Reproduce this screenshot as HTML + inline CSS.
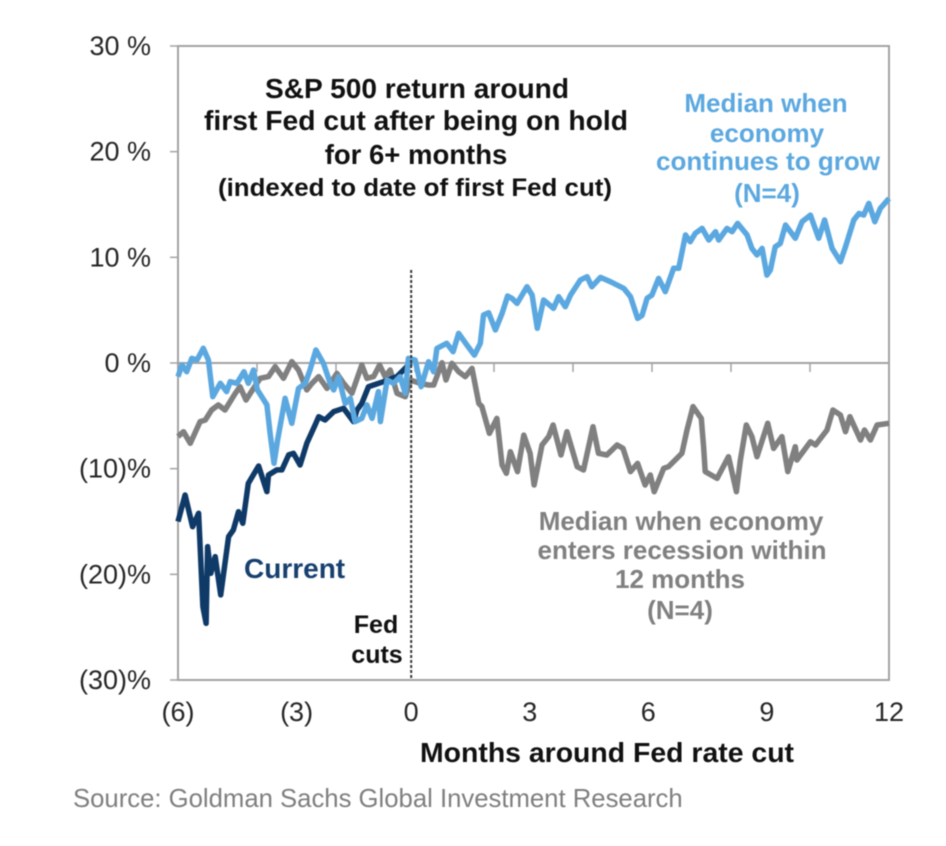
<!DOCTYPE html>
<html lang="en">
<head>
<meta charset="utf-8">
<title>S&amp;P 500 return around first Fed cut</title>
<style>
html,body{margin:0;padding:0;background:#fff;width:946px;height:846px;overflow:hidden}
svg{display:block;filter:blur(0.6px)}
text{font-family:"Liberation Sans",Arial,sans-serif}
.b{font-weight:bold}
.t{font-size:27px;fill:#262626}
</style>
</head>
<body>
<svg id="chart" width="946" height="846" viewBox="0 0 946 846" xmlns="http://www.w3.org/2000/svg">
<rect x="0" y="0" width="946" height="846" fill="#fff"/>
<g id="grid"></g>
<g id="series"></g>
<g id="labels"></g>
<g class="b" text-anchor="middle" fill="#111">
<text x="417" y="98" font-size="27.5" textLength="304" lengthAdjust="spacingAndGlyphs">S&amp;P 500 return around</text>
<text x="416" y="130" font-size="27.5" textLength="424" lengthAdjust="spacingAndGlyphs">first Fed cut after being on hold</text>
<text x="416" y="164" font-size="27.5">for 6+ months</text>
<text x="415" y="196" font-size="25" textLength="394" lengthAdjust="spacingAndGlyphs">(indexed to date of first Fed cut)</text>
</g>
<g class="b" text-anchor="middle" fill="#5ba8e0" font-size="26">
<text x="766" y="112">Median when</text>
<text x="767" y="142">economy</text>
<text x="768" y="170">continues to grow</text>
<text x="767" y="202">(N=4)</text>
</g>
<g class="b" text-anchor="middle" fill="#808080" font-size="26">
<text x="681" y="530">Median when economy</text>
<text x="682" y="559">enters recession within</text>
<text x="680" y="588">12 months</text>
<text x="680" y="619">(N=4)</text>
</g>
<text class="b" x="244" y="578" font-size="28" fill="#17406f">Current</text>
<g class="b" text-anchor="middle" fill="#111" font-size="25">
<text x="376" y="633">Fed</text>
<text x="377" y="663">cuts</text>
</g>
<text class="b" x="607" y="762" font-size="27.5" text-anchor="middle" textLength="374" lengthAdjust="spacingAndGlyphs" fill="#111">Months around Fed rate cut</text>
<text x="73" y="807" font-size="25.7" fill="#7f7f7f">Source: Goldman Sachs Global Investment Research</text>
</svg>
<script>
const yTicks = [30, 20, 10, 0, -10, -20, -30];
const yTickLabels = ["30 %", "20 %", "10 %", "0 %", "(10)%", "(20)%", "(30)%"];
const xTicks = [-5.9, -2.9, 0, 3, 6, 9, 12.09];
const xTickLabels = ["(6)", "(3)", "0", "3", "6", "9", "12"];
const zeroLineTickCount = 9;

const grayMonths = [-5.9,-5.76,-5.59,-5.34,-5.21,-5.05,-4.88,-4.71,-4.45,-4.33,-4.18,-3.99,-3.82,-3.61,-3.44,-3.23,-3.02,-2.85,-2.64,-2.51,-2.34,-2.13,-1.88,-1.71,-1.5,-1.25,-1.12,-0.95,-0.8,-0.66,-0.53,-0.36,-0.15,-0.02,0.23,0.44,0.57,0.78,0.88,1.03,1.2,1.37,1.54,1.71,1.79,1.98,2.17,2.3,2.41,2.51,2.69,2.85,3.01,3.11,3.22,3.31,3.48,3.59,3.79,3.94,4.2,4.36,4.6,4.74,4.95,5.21,5.36,5.55,5.73,5.92,6.05,6.15,6.39,6.51,6.85,6.98,7.13,7.34,7.4,7.44,7.74,8.03,8.23,8.33,8.48,8.62,8.75,8.83,9.02,9.17,9.38,9.53,9.72,9.76,10.1,10.23,10.52,10.67,10.86,10.99,11.1,11.37,11.47,11.62,11.79,12.09];
const grayValues = [-6.97,-6.5,-7.6,-5.55,-5.39,-4.45,-3.97,-4.45,-2.87,-2.24,-3.5,-2.4,-1.45,-1.29,-0.35,-1.45,0.13,-0.66,-2.55,-1.92,-1.29,-2.4,-0.98,-1.92,-2.87,-0.19,-1.45,-1.29,-0.19,-1.29,-0.66,-2.87,-3.19,-1.61,-1.93,-2.08,-2.08,0.03,-1.61,-0.03,-0.82,-1.3,-0.51,-3.82,-4.13,-6.66,-5.24,-9.65,-10.44,-8.39,-10.28,-6.82,-8.55,-11.55,-9.5,-7.76,-6.97,-5.87,-8.71,-6.5,-9.81,-10.13,-6.03,-8.55,-8.71,-7.76,-8.08,-10.28,-9.5,-11.55,-10.6,-12.18,-9.97,-9.81,-8.55,-6.34,-4.13,-5.24,-7.92,-10.28,-10.92,-8.87,-12.18,-9.18,-5.87,-6.97,-8.87,-7.92,-5.71,-8.08,-6.97,-10.28,-7.92,-9.18,-7.45,-7.76,-6.34,-4.45,-4.92,-6.5,-5.08,-7.29,-6.34,-7.29,-5.87,-5.71];

const currentMonths = [-5.9,-5.72,-5.53,-5.38,-5.27,-5.19,-5.15,-5.07,-4.96,-4.82,-4.62,-4.5,-4.37,-4.26,-4.12,-3.86,-3.65,-3.61,-3.4,-3.27,-3.1,-2.98,-2.81,-2.64,-2.43,-2.34,-2.18,-1.96,-1.71,-1.46,-1.37,-1.25,-1.08,-0.95,-0.7,-0.36,-0.07,0];
const currentValues = [-15.01,-12.49,-15.49,-14.22,-23.06,-24.63,-17.38,-19.9,-18.32,-21.95,-16.43,-15.8,-14.07,-15.17,-11.39,-9.75,-12.17,-10.6,-10.12,-10.12,-8.7,-8.55,-9.65,-7.6,-5.87,-5.08,-5.39,-4.6,-4.29,-5.55,-4.45,-3.82,-2.24,-2.08,-1.77,-1.29,-0.19,0];

const growthMonths = [-5.9,-5.8,-5.68,-5.55,-5.42,-5.26,-5.13,-5.02,-4.83,-4.67,-4.58,-4.41,-4.23,-4.12,-3.99,-3.89,-3.65,-3.57,-3.47,-3.38,-3.19,-3.02,-2.85,-2.68,-2.56,-2.41,-2.22,-2.05,-1.96,-1.84,-1.67,-1.54,-1.42,-1.25,-1.12,-0.99,-0.83,-0.78,-0.61,-0.45,-0.28,-0.15,-0.07,0.1,0.25,0.44,0.57,0.65,0.9,1.06,1.2,1.41,1.6,1.75,1.83,1.96,2.13,2.3,2.44,2.55,2.68,2.93,3.06,3.19,3.35,3.6,3.73,3.9,4.03,4.28,4.45,4.57,4.79,5.04,5.38,5.55,5.73,5.84,5.97,6.09,6.26,6.43,6.64,6.77,6.94,7.06,7.19,7.36,7.53,7.7,7.78,7.99,8.12,8.26,8.5,8.62,8.75,8.88,9,9.09,9.21,9.34,9.47,9.72,9.89,10.1,10.31,10.46,10.65,10.86,10.99,11.2,11.33,11.45,11.58,11.73,11.87,12.09];
const growthValues = [-1.29,-0.19,-0.82,0.44,0.28,1.39,0.28,-3.19,-1.92,-2.71,-1.77,-1.92,-0.82,-1.92,-0.66,-2.55,-3.97,-6.65,-9.49,-7.29,-3.34,-5.71,-2.4,-1.92,-0.66,1.23,-0.03,-1.92,-2.55,-1.29,-3.82,-3.34,-5.55,-5.24,-3.97,-5.24,-2.71,-5.55,-1.61,-1.92,-1.29,-2.87,0.44,0.28,-2.24,0.12,-0.82,1.38,1.86,1.07,2.8,1.7,0.75,1.86,4.54,4.76,3.12,4.7,6.34,6.11,5.64,7.22,6.43,3.28,5.96,5.17,6.27,5.33,6.43,7.85,8.17,7.22,8.1,7.69,7.06,6.27,4.22,4.5,6.12,6.43,8.01,6.75,8.96,8.96,12.11,11.48,12.27,12.74,11.64,12.43,11.64,12.74,12.43,13.21,12.11,10.85,10.22,10.85,8.32,8.8,11,11.32,13.06,11.8,13.37,14,11.8,13.53,10.85,9.59,11,13.53,14.16,14,15.1,13.37,14.63,15.58];

const svgNS = "http://www.w3.org/2000/svg";
const left = 178, right = 889, top_ = 46, bottom = 680;
const xMin = -5.9, xMax = 12.09;
function xScale(m) { return left + (m - xMin) / (xMax - xMin) * (right - left); }
function yScale(v) { return bottom - (v + 30) / 60 * (bottom - top_); }
function make(tag, attrs, parent) {
  const el = document.createElementNS(svgNS, tag);
  for (const k in attrs) el.setAttribute(k, attrs[k]);
  parent.appendChild(el);
  return el;
}
const grid = document.getElementById("grid");
const seriesG = document.getElementById("series");
const labelsG = document.getElementById("labels");
const axisColor = "#a3a3a3";

const frame = make("rect", {x: left, y: top_, width: right - left, height: bottom - top_, fill: "none", stroke: axisColor, "stroke-width": 2}, grid);



const zeroLine = make("line", {x1: left, x2: right, y1: yScale(0), y2: yScale(0), stroke: axisColor, "stroke-width": 2}, grid);



for (let i = 1; i < zeroLineTickCount; i++) {
  const tx = left + i * (right - left) / zeroLineTickCount;
  const t = make("line", {x1: tx, x2: tx, y1: yScale(0), y2: yScale(0) + 9, stroke: axisColor, "stroke-width": 1.5}, grid);
  
  
}

yTicks.forEach(function (v, i) {
  const y = yScale(v);
  const t = make("line", {x1: left - 8, x2: left, y1: y, y2: y, stroke: axisColor, "stroke-width": 1.5}, grid);
  
  
  const lbl = make("text", {x: 151, y: y + 9, "text-anchor": "end", class: "t"}, labelsG);
  
  
  lbl.textContent = yTickLabels[i];
});

xTicks.forEach(function (m, i) {
  const lbl = make("text", {x: xScale(m), y: 721, "text-anchor": "middle", class: "t"}, labelsG);
  
  
  lbl.textContent = xTickLabels[i];
});

function pathFor(months, values) {
  return months.map(function (m, i) {
    return (i ? "L" : "M") + xScale(m).toFixed(1) + " " + yScale(values[i]).toFixed(1);
  }).join(" ");
}

const grayLine = make("path", {d: pathFor(grayMonths, grayValues), fill: "none", stroke: "#808080", "stroke-width": 5.5, "stroke-linejoin": "round"}, seriesG);



const currentLine = make("path", {d: pathFor(currentMonths, currentValues), fill: "none", stroke: "#0f3a68", "stroke-width": 5.5, "stroke-linejoin": "round"}, seriesG);



const growthLine = make("path", {d: pathFor(growthMonths, growthValues), fill: "none", stroke: "#5ba8e0", "stroke-width": 5.5, "stroke-linejoin": "round"}, seriesG);



const fedLine = make("line", {x1: xScale(0), x2: xScale(0), y1: 270, y2: bottom, stroke: "#333", "stroke-width": 2, "stroke-dasharray": "3 2"}, seriesG);


</script>
</body>
</html>
